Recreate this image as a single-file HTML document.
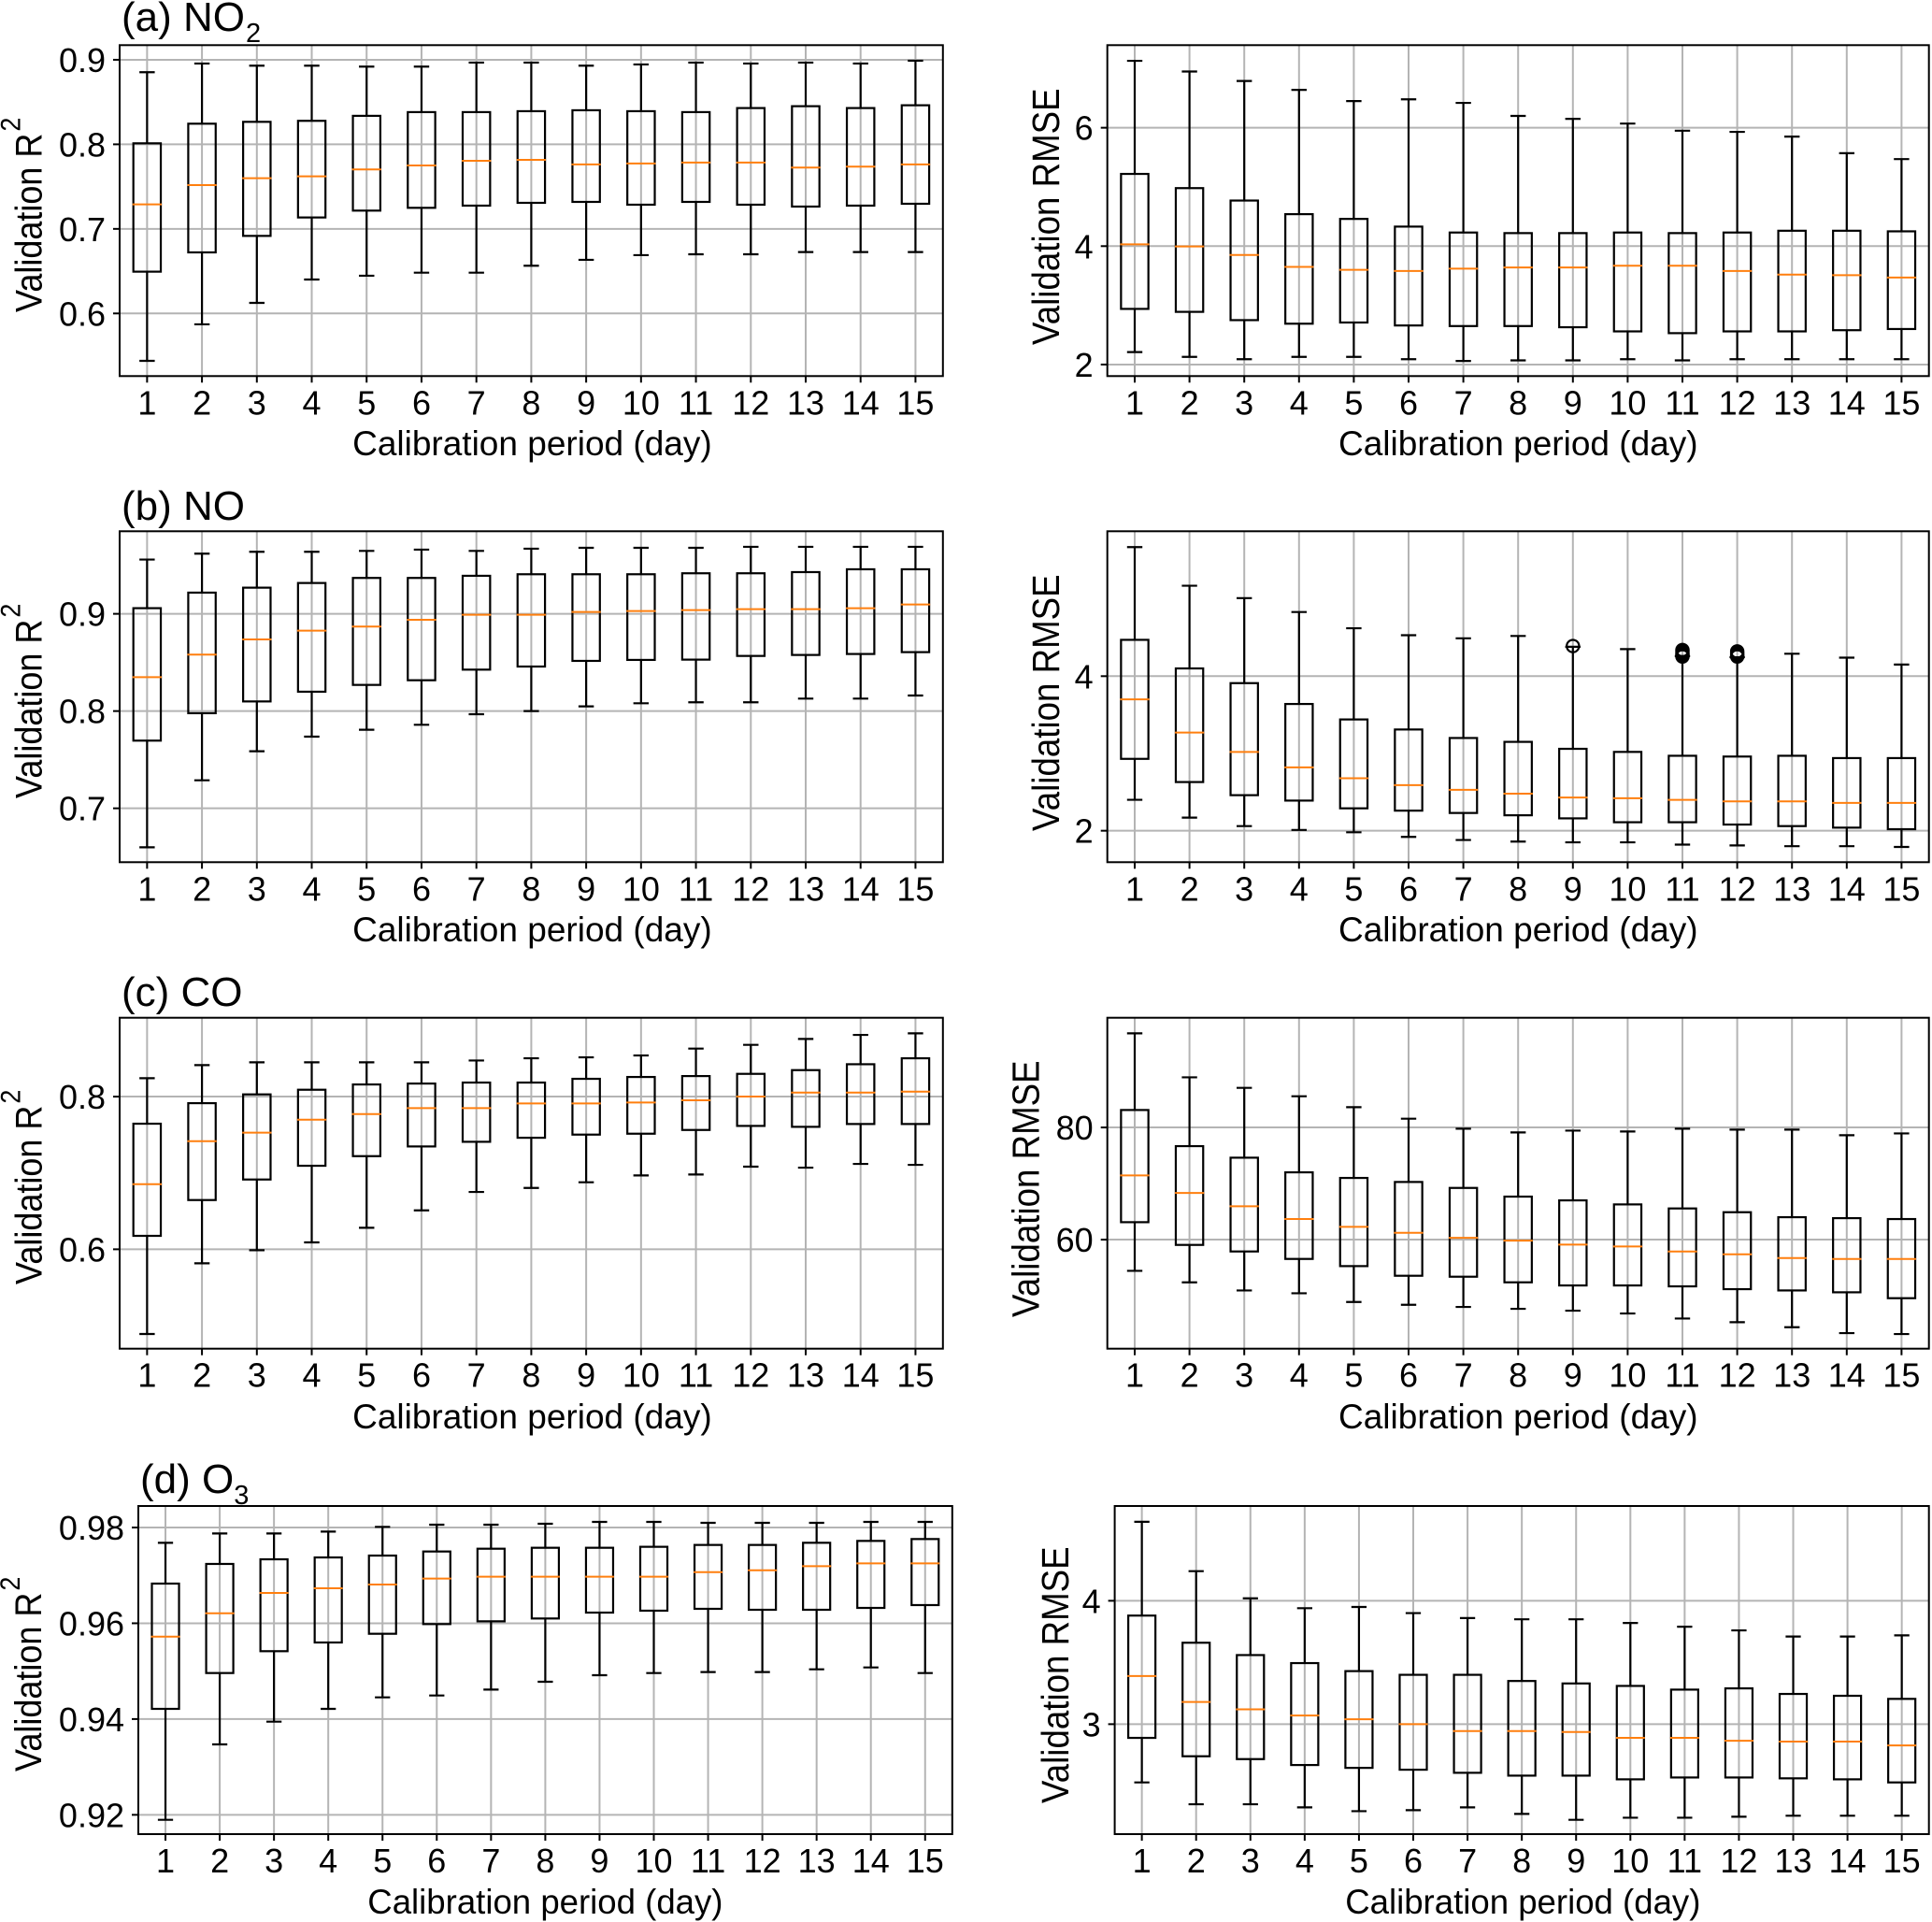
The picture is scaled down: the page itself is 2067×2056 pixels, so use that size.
<!DOCTYPE html>
<html lang="en">
<head>
<meta charset="utf-8">
<title>Validation R2 and RMSE by calibration period</title>
<style>
html,body{margin:0;padding:0;background:#fff;}
svg{display:block;font-family:"Liberation Sans",Arial,sans-serif;fill:#000;}
.x-title{font-size:37px;}
.x-title-d{font-size:36.6px;}
.y-title-r2{font-size:36px;}
.y-title-rmse{font-size:36.7px;}
.panel-title{font-size:44px;}
</style>
</head>
<body>
<svg id="figure" width="2067" height="2056" viewBox="0 0 2067 2056" xmlns="http://www.w3.org/2000/svg">
  <rect x="0" y="0" width="2067" height="2056" fill="#fff"/>

  <g id="p-no2-r2"></g>
  <g id="p-no2-rmse"></g>
  <g id="p-no-r2"></g>
  <g id="p-no-rmse"></g>
  <g id="p-co-r2"></g>
  <g id="p-co-rmse"></g>
  <g id="p-o3-r2"></g>
  <g id="p-o3-rmse"></g>

  <text class="panel-title" x="130" y="33">(a) NO<tspan font-size="29" dx="1" dy="12">2</tspan></text>
  <text class="panel-title" x="130" y="556">(b) NO</text>
  <text class="panel-title" x="130" y="1076">(c) CO</text>
  <text class="panel-title" x="150" y="1597">(d) O<tspan font-size="29" dy="12">3</tspan></text>

  <text class="y-title-r2" transform="translate(44.5,334) rotate(-90) scale(1,1.1)">Validation R<tspan font-size="27" dx="2" dy="-21">2</tspan></text>
  <text class="y-title-r2" transform="translate(44.5,854) rotate(-90) scale(1,1.1)">Validation R<tspan font-size="27" dx="2" dy="-21">2</tspan></text>
  <text class="y-title-r2" transform="translate(44.5,1374) rotate(-90) scale(1,1.1)">Validation R<tspan font-size="27" dx="2" dy="-21">2</tspan></text>
  <text class="y-title-r2" transform="translate(44,1895) rotate(-90) scale(1,1.1)">Validation R<tspan font-size="27" dx="2" dy="-21">2</tspan></text>

  <text class="y-title-rmse" transform="translate(1133,369) rotate(-90) scale(1,1.1)">Validation RMSE</text>
  <text class="y-title-rmse" transform="translate(1133,889) rotate(-90) scale(1,1.1)">Validation RMSE</text>
  <text class="y-title-rmse" transform="translate(1111.5,1409) rotate(-90) scale(1,1.1)">Validation RMSE</text>
  <text class="y-title-rmse" transform="translate(1143,1929) rotate(-90) scale(1,1.1)">Validation RMSE</text>

  <text class="x-title" x="569.4" y="487" text-anchor="middle">Calibration period (day)</text>
  <text class="x-title" x="1624.3" y="487" text-anchor="middle">Calibration period (day)</text>
  <text class="x-title" x="569.4" y="1007" text-anchor="middle">Calibration period (day)</text>
  <text class="x-title" x="1624.3" y="1007" text-anchor="middle">Calibration period (day)</text>
  <text class="x-title" x="569.4" y="1528" text-anchor="middle">Calibration period (day)</text>
  <text class="x-title" x="1624.3" y="1528" text-anchor="middle">Calibration period (day)</text>
  <text class="x-title-d" x="583.4" y="2047" text-anchor="middle">Calibration period (day)</text>
  <text class="x-title-d" x="1629.3" y="2047" text-anchor="middle">Calibration period (day)</text>
</svg>

<script>
const calibrationDays = [1,2,3,4,5,6,7,8,9,10,11,12,13,14,15];

/* (a) NO2 R2 */
const no2R2High = [.8853,.8956,.8930,.8930,.8919,.8919,.8967,.8967,.8930,.8945,.8967,.8956,.8967,.8956,.8989];
const no2R2Q3 = [.8012,.8244,.8266,.8278,.8337,.8381,.8381,.8392,.8403,.8392,.8381,.8429,.8451,.8429,.8462];
const no2R2Median = [.7290,.7518,.7599,.7621,.7703,.7750,.7806,.7817,.7762,.7773,.7784,.7784,.7725,.7736,.7762];
const no2R2Q1 = [.6494,.6722,.6917,.7135,.7216,.7249,.7275,.7308,.7319,.7286,.7319,.7286,.7264,.7275,.7297];
const no2R2Low = [.5439,.5871,.6125,.6401,.6446,.6482,.6482,.6564,.6634,.6689,.6700,.6700,.6726,.6726,.6726];
const no2R2Ticks = [0.6,0.7,0.8,0.9];
const no2R2TickLabels = ["0.6","0.7","0.8","0.9"];

/* (a) NO2 RMSE */
const no2RmseHigh = [7.13,6.95,6.79,6.64,6.45,6.48,6.42,6.20,6.15,6.07,5.95,5.93,5.85,5.57,5.47];
const no2RmseQ3 = [5.22,4.98,4.77,4.54,4.46,4.33,4.23,4.22,4.22,4.23,4.22,4.23,4.26,4.26,4.25];
const no2RmseMedian = [4.03,3.995,3.85,3.65,3.60,3.58,3.62,3.64,3.64,3.67,3.67,3.58,3.52,3.51,3.47];
const no2RmseQ1 = [2.94,2.89,2.75,2.69,2.71,2.66,2.65,2.65,2.63,2.56,2.53,2.56,2.56,2.58,2.60];
const no2RmseLow = [2.21,2.13,2.09,2.13,2.13,2.09,2.06,2.07,2.07,2.09,2.07,2.09,2.09,2.09,2.09];
const no2RmseTicks = [2,4,6];
const no2RmseTickLabels = ["2","4","6"];

/* (b) NO R2 */
const noR2High = [.9558,.9619,.9638,.9638,.9647,.9660,.9647,.9670,.9679,.9679,.9679,.9689,.9689,.9689,.9689];
const noR2Q3 = [.9058,.9218,.9269,.9317,.9369,.9369,.9391,.9407,.9407,.9407,.9417,.9417,.9429,.9458,.9458];
const noR2Median = [.8349,.8580,.8737,.8827,.8869,.8939,.8990,.8990,.9019,.9029,.9038,.9048,.9048,.9058,.9096];
const noR2Q1 = [.7696,.7978,.8099,.8199,.8269,.8317,.8426,.8458,.8516,.8526,.8529,.8567,.8577,.8587,.8606];
const noR2Low = [.6599,.7288,.7587,.7737,.7808,.7859,.7968,.8000,.8048,.8080,.8090,.8090,.8128,.8128,.8160];
const noR2Ticks = [0.7,0.8,0.9];
const noR2TickLabels = ["0.7","0.8","0.9"];

/* (b) NO RMSE */
const noRmseHigh = [5.67,5.17,5.01,4.83,4.62,4.53,4.49,4.52,4.38,4.35,4.26,4.245,4.29,4.24,4.15];
const noRmseQ3 = [4.47,4.10,3.91,3.64,3.44,3.31,3.20,3.15,3.06,3.02,2.97,2.96,2.97,2.94,2.94];
const noRmseMedian = [3.70,3.27,3.02,2.82,2.68,2.59,2.53,2.48,2.43,2.42,2.40,2.38,2.38,2.36,2.36];
const noRmseQ1 = [2.93,2.63,2.46,2.39,2.29,2.26,2.23,2.20,2.16,2.11,2.11,2.08,2.06,2.04,2.02];
const noRmseLow = [2.40,2.17,2.06,2.01,1.98,1.92,1.88,1.86,1.85,1.85,1.82,1.81,1.80,1.80,1.79];
const noRmseOutliers = [[],[],[],[],[],[],[],[],[4.39],[],[4.339,4.32,4.30,4.285,4.27,4.254],[4.32,4.30,4.28,4.265,4.254],[],[],[]];
const noRmseTicks = [2,4];
const noRmseTickLabels = ["2","4"];

/* (c) CO R2 */
const coR2High = [.8241,.8412,.8449,.8449,.8449,.8449,.8473,.8502,.8514,.8539,.8629,.8678,.8755,.8808,.8829];
const coR2Q3 = [.7645,.7914,.8029,.8090,.8159,.8171,.8184,.8184,.8233,.8257,.8269,.8298,.8347,.8424,.8502];
const coR2Median = [.6853,.7416,.7527,.7698,.7771,.7849,.7849,.7910,.7910,.7922,.7951,.8000,.8053,.8053,.8065];
const coR2Q1 = [.6176,.6645,.6914,.7094,.7220,.7347,.7408,.7461,.7502,.7514,.7563,.7616,.7604,.7641,.7641];
const coR2Low = [.4890,.5816,.5988,.6090,.6282,.6510,.6751,.6804,.6878,.6967,.6980,.7082,.7069,.7118,.7106];
const coR2Ticks = [0.6,0.8];
const coR2TickLabels = ["0.6","0.8"];

/* (c) CO RMSE */
const coRmseHigh = [96.78,88.94,87.06,85.56,83.61,81.56,79.78,79.11,79.44,79.28,79.78,79.61,79.61,78.61,78.94];
const coRmseQ3 = [83.11,76.67,74.61,72.0,71.0,70.28,69.22,67.67,67.0,66.28,65.56,64.89,64.0,63.83,63.67];
const coRmseMedian = [71.44,68.33,65.94,63.67,62.28,61.22,60.33,59.83,59.11,58.78,57.89,57.39,56.72,56.56,56.56];
const coRmseQ1 = [63.11,59.06,57.89,56.56,55.28,53.56,53.39,52.39,51.83,51.83,51.67,51.17,50.94,50.61,49.56];
const coRmseLow = [54.44,52.39,50.94,50.44,48.89,48.39,48.0,47.67,47.33,46.83,45.94,45.28,44.39,43.33,43.17];
const coRmseTicks = [60,80];
const coRmseTickLabels = ["60","80"];

/* (d) O3 R2 */
const o3R2High = [.97681,.97876,.97876,.97915,.98013,.98059,.98059,.98078,.98117,.98117,.98098,.98098,.98098,.98117,.98117];
const o3R2Q3 = [.96829,.97239,.97336,.97375,.97414,.97499,.97557,.97577,.97577,.97597,.97636,.97636,.97681,.97720,.97759];
const o3R2Median = [.95722,.96210,.96633,.96731,.96809,.96933,.96972,.96972,.96972,.96972,.97069,.97108,.97193,.97252,.97252];
const o3R2Q1 = [.94213,.94961,.95417,.95599,.95781,.95983,.96041,.96100,.96223,.96263,.96302,.96282,.96282,.96321,.96380];
const o3R2Low = [.91896,.93471,.93946,.94213,.94453,.94492,.94616,.94779,.94915,.94961,.94981,.94981,.95039,.95078,.94961];
const o3R2Ticks = [0.92,0.94,0.96,0.98];
const o3R2TickLabels = ["0.92","0.94","0.96","0.98"];

/* (d) O3 RMSE */
const o3RmseHigh = [4.64,4.24,4.02,3.94,3.95,3.90,3.86,3.85,3.85,3.82,3.79,3.76,3.71,3.71,3.72];
const o3RmseQ3 = [3.88,3.66,3.56,3.495,3.43,3.40,3.40,3.35,3.33,3.31,3.28,3.29,3.245,3.23,3.205];
const o3RmseMedian = [3.39,3.18,3.12,3.07,3.04,3.0,2.944,2.944,2.937,2.889,2.889,2.866,2.859,2.859,2.828];
const o3RmseQ1 = [2.889,2.740,2.717,2.669,2.646,2.631,2.606,2.583,2.583,2.553,2.568,2.568,2.561,2.553,2.528];
const o3RmseLow = [2.528,2.351,2.351,2.326,2.295,2.303,2.326,2.273,2.225,2.242,2.242,2.25,2.258,2.258,2.258];
const o3RmseTicks = [3,4];
const o3RmseTickLabels = ["3","4"];

const NS = "http://www.w3.org/2000/svg";
const GRID = "#b4b4b4";
const MEDIAN = "#ff7f0e";
const INK = "#000";
const INK_W = 2.2;

function makeLine(parent, x1, y1, x2, y2, color, width) {
  const el = document.createElementNS(NS, "line");
  el.setAttribute("x1", x1.toFixed(2));
  el.setAttribute("y1", y1.toFixed(2));
  el.setAttribute("x2", x2.toFixed(2));
  el.setAttribute("y2", y2.toFixed(2));
  el.setAttribute("stroke", color);
  el.setAttribute("stroke-width", width);
  parent.appendChild(el);
  return el;
}

function drawPanel(id, key, left, top, right, bottom, yMin, yMax, ticks, tickLabels, high, q3, median, q1, low, outliers) {
  const g = document.getElementById(id);
  const unit = (right - left) / 15;
  const xScale = d => left + (d - 0.5) * unit;
  const yScale = v => bottom - (v - yMin) / (yMax - yMin) * (bottom - top);

  calibrationDays.forEach(d => {
    const line = makeLine(g, xScale(d), top, xScale(d), bottom, GRID, 2);
    
    
  });
  ticks.forEach(t => {
    const line = makeLine(g, left, yScale(t), right, yScale(t), GRID, 2);
    
    
  });

  calibrationDays.forEach((d, i) => {
    const x = xScale(d);
    const box = document.createElementNS(NS, "g");
    
    
    g.appendChild(box);

    const upper = makeLine(box, x, yScale(q3[i]), x, yScale(high[i]), INK, INK_W);
    
    
    const lower = makeLine(box, x, yScale(q1[i]), x, yScale(low[i]), INK, INK_W);
    
    
    const capHigh = makeLine(box, x - unit * 0.14, yScale(high[i]), x + unit * 0.14, yScale(high[i]), INK, INK_W);
    
    
    const capLow = makeLine(box, x - unit * 0.14, yScale(low[i]), x + unit * 0.14, yScale(low[i]), INK, INK_W);
    
    

    const rect = document.createElementNS(NS, "rect");
    rect.setAttribute("x", (x - unit * 0.25).toFixed(2));
    rect.setAttribute("y", yScale(q3[i]).toFixed(2));
    rect.setAttribute("width", (unit * 0.5).toFixed(2));
    rect.setAttribute("height", (yScale(q1[i]) - yScale(q3[i])).toFixed(2));
    rect.setAttribute("fill", "none");
    rect.setAttribute("stroke", INK);
    rect.setAttribute("stroke-width", INK_W);
    
    
    box.appendChild(rect);

    const med = makeLine(box, x - unit * 0.25 - 1, yScale(median[i]), x + unit * 0.25 + 1, yScale(median[i]), MEDIAN, 2);
    
    

    if (outliers) {
      outliers[i].forEach(v => {
        const c = document.createElementNS(NS, "circle");
        c.setAttribute("cx", x.toFixed(2));
        c.setAttribute("cy", yScale(v).toFixed(2));
        c.setAttribute("r", "6.6");
        c.setAttribute("fill", "none");
        c.setAttribute("stroke", INK);
        c.setAttribute("stroke-width", "2.2");
        
        
        box.appendChild(c);
      });
    }
  });

  const frame = document.createElementNS(NS, "rect");
  frame.setAttribute("x", left);
  frame.setAttribute("y", top);
  frame.setAttribute("width", right - left);
  frame.setAttribute("height", bottom - top);
  frame.setAttribute("fill", "none");
  frame.setAttribute("stroke", INK);
  frame.setAttribute("stroke-width", "2");
  
  
  g.appendChild(frame);

  calibrationDays.forEach(d => {
    const tick = makeLine(g, xScale(d), bottom, xScale(d), bottom + 7, INK, 2);
    
    
    const label = document.createElementNS(NS, "text");
    label.setAttribute("x", xScale(d).toFixed(2));
    label.setAttribute("y", bottom + 41);
    label.setAttribute("text-anchor", "middle");
    label.setAttribute("font-size", "36");
    label.textContent = String(d);
    
    
    g.appendChild(label);
  });

  ticks.forEach((t, i) => {
    const tick = makeLine(g, left - 7, yScale(t), left, yScale(t), INK, 2);
    
    
    const label = document.createElementNS(NS, "text");
    label.setAttribute("x", left - 15);
    label.setAttribute("y", (yScale(t) + 13).toFixed(2));
    label.setAttribute("text-anchor", "end");
    label.setAttribute("font-size", "36");
    label.textContent = tickLabels[i];
    
    
    g.appendChild(label);
  });
}

drawPanel("p-no2-r2", "no2-r2", 128, 48.3, 1008.8, 402.3, 0.5259, 0.9173, no2R2Ticks, no2R2TickLabels, no2R2High, no2R2Q3, no2R2Median, no2R2Q1, no2R2Low);
drawPanel("p-no2-rmse", "no2-rmse", 1184.7, 48.3, 2063.7, 402.3, 1.805, 7.395, no2RmseTicks, no2RmseTickLabels, no2RmseHigh, no2RmseQ3, no2RmseMedian, no2RmseQ1, no2RmseLow);
drawPanel("p-no-r2", "no-r2", 128, 568.3, 1008.8, 922.3, 0.6446, 0.9849, noR2Ticks, noR2TickLabels, noR2High, noR2Q3, noR2Median, noR2Q1, noR2Low);
drawPanel("p-no-rmse", "no-rmse", 1184.7, 568.3, 2063.7, 922.3, 1.593, 5.875, noRmseTicks, noRmseTickLabels, noRmseHigh, noRmseQ3, noRmseMedian, noRmseQ1, noRmseLow, noRmseOutliers);
drawPanel("p-co-r2", "co-r2", 128, 1088.7, 1008.8, 1442.7, 0.4698, 0.9033, coR2Ticks, coR2TickLabels, coR2High, coR2Q3, coR2Median, coR2Q1, coR2Low);
drawPanel("p-co-rmse", "co-rmse", 1184.7, 1088.7, 2063.7, 1442.7, 40.56, 99.56, coRmseTicks, coRmseTickLabels, coRmseHigh, coRmseQ3, coRmseMedian, coRmseQ1, coRmseLow);
drawPanel("p-o3-r2", "o3-r2", 148, 1611, 1018.8, 1962, 0.91597, 0.98449, o3R2Ticks, o3R2TickLabels, o3R2High, o3R2Q3, o3R2Median, o3R2Q1, o3R2Low);
drawPanel("p-o3-rmse", "o3-rmse", 1192.6, 1611, 2063.7, 1962, 2.109, 4.768, o3RmseTicks, o3RmseTickLabels, o3RmseHigh, o3RmseQ3, o3RmseMedian, o3RmseQ1, o3RmseLow);
</script>
</body>
</html>
